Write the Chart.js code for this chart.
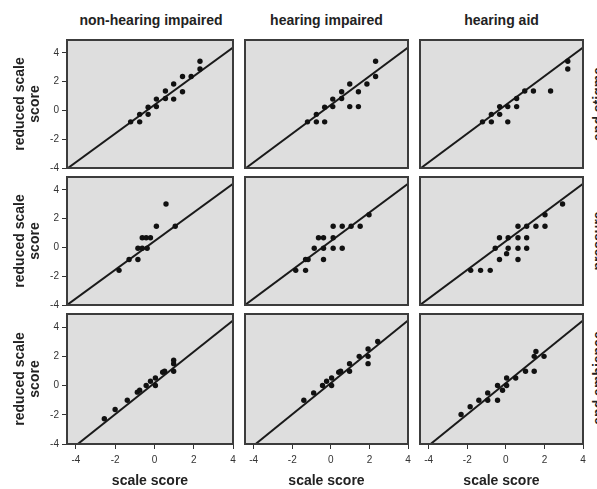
<!DOCTYPE html>
<html>
<head>
<meta charset="utf-8">
<script src="https://cdn.jsdelivr.net/npm/chart.js@4.4.1/dist/chart.umd.min.js"></script>
<style>
  body { margin: 0; background: #fff; }
  #wrap { position: relative; width: 597px; height: 489px; overflow: hidden; font-family: 'Liberation Sans', Arial, sans-serif; }
  .box { position: absolute; }
  .colTitle { position: absolute; top: 12px; height: 16px; line-height: 16px; font-weight: bold; font-size: 14px; color: #222; text-align: center; }
  .rowTag { position: absolute; line-height: 16px; font-weight: bold; font-size: 14px; color: #222; white-space: nowrap; transform: translate(-50%, -50%) rotate(-90deg); }
</style>
</head>
<body>
<div id="wrap"></div>
<script>
// column groups and row labels (right side, cut off in the source)
const groups = ['non-hearing impaired', 'hearing impaired', 'hearing aid'];
const rowTags = ['and stigma', 'pressure', 'and ambience'];
const tickValues = [-4, -2, 0, 2, 4];
const xMin = -4.45, xMax = 4;
const yMin = -4, yMax = 4.9;

// row 1
const r1c1X = [-1.21, -0.75, -0.75, -0.32, -0.32, 0.10, 0.10, 0.56, 0.56, 0.98, 0.98, 1.43, 1.43, 1.87, 2.32, 2.32];
const r1c1Y = [-0.79, -0.27, -0.79, 0.22, -0.27, 0.79, 0.27, 0.83, 1.35, 0.79, 1.84, 2.36, 1.30, 2.36, 3.42, 2.88];
const r1c2X = [-1.21, -0.75, -0.75, -0.32, -0.32, 0.10, 0.10, 0.56, 0.56, 0.98, 0.98, 1.43, 1.43, 1.87, 2.32, 2.32];
const r1c2Y = [-0.79, -0.27, -0.79, 0.22, -0.79, 0.79, 0.27, 1.30, 0.83, 1.84, 0.27, 1.30, 0.27, 1.84, 3.42, 2.36];
const r1c3X = [-1.21, -0.75, -0.75, -0.32, -0.32, 0.10, 0.10, 0.56, 0.56, 0.98, 1.43, 2.32, 3.21, 3.21];
const r1c3Y = [-0.79, -0.27, -0.79, 0.27, -0.27, 0.27, -0.79, 0.83, 0.27, 1.35, 1.35, 1.35, 3.42, 2.88];

// row 2
const r2c1X = [-1.80, -1.29, -0.84, -0.84, -0.62, -0.42, -0.20, -0.62, -0.37, 0.10, 0.59, 1.06];
const r2c1Y = [-1.59, -0.84, -0.05, -0.84, 0.68, 0.68, 0.68, -0.05, -0.05, 1.48, 3.02, 1.48];
const r2c2X = [-1.82, -1.31, -1.31, -1.18, -0.86, -0.38, -0.38, 0.12, 0.59, -0.64, -0.38, 0.12, 0.12, 0.59, 1.05, 1.52, 1.98];
const r2c2Y = [-1.59, -1.59, -0.84, -0.84, -0.05, -0.05, -0.84, -0.05, -0.05, 0.68, 0.68, 0.68, 1.48, 1.48, 1.48, 1.48, 2.27];
const r2c3X = [-1.82, -1.31, -0.81, -0.33, 0.04, 0.63, -0.55, 0.12, 0.63, 1.08, -0.33, 0.12, 0.63, 1.08, 0.63, 1.08, 1.56, 2.03, 2.03, 2.94];
const r2c3Y = [-1.59, -1.59, -1.59, -0.84, -0.43, -0.84, -0.05, -0.05, -0.05, -0.05, 0.68, 0.68, 0.68, 0.68, 1.48, 1.48, 1.48, 1.48, 2.27, 3.02];

// row 3
const r3c1X = [-2.55, -2.00, -1.38, -0.87, -0.75, -0.42, -0.20, 0.05, 0.05, 0.42, 0.52, 0.98, 0.98, 0.98];
const r3c1Y = [-2.27, -1.64, -1.00, -0.45, -0.32, 0.00, 0.30, 0.52, 0.00, 0.91, 0.98, 1.50, 1.73, 0.98];
const r3c2X = [-1.40, -0.89, -0.43, -0.22, 0.04, 0.04, 0.41, 0.51, 0.97, 0.97, 1.47, 1.93, 1.93, 1.93, 2.43];
const r3c2Y = [-1.00, -0.50, 0.00, 0.30, 0.52, 0.00, 0.91, 0.98, 1.50, 0.98, 2.00, 2.50, 2.00, 1.50, 3.02];
const r3c3X = [-2.32, -1.85, -1.40, -0.94, -0.94, -0.43, -0.43, -0.17, 0.04, 0.04, 0.51, 1.02, 1.47, 1.47, 1.56, 1.98];
const r3c3Y = [-1.98, -1.45, -1.00, -0.50, -1.00, 0.00, -1.00, -0.32, 0.52, 0.00, 0.52, 0.98, 0.98, 2.00, 2.34, 2.00];

// reference line per row (two ends)
const fitX = [[-4.4, 4], [-4.45, 4], [-3.9, 4]];
const fitY = [[-4, 4.38], [-4, 4.43], [-4, 4.45]];

const panelX = [[r1c1X, r1c2X, r1c3X], [r2c1X, r2c2X, r2c3X], [r3c1X, r3c2X, r3c3X]];
const panelY = [[r1c1Y, r1c2Y, r1c3Y], [r2c1Y, r2c2Y, r2c3Y], [r3c1Y, r3c2Y, r3c3Y]];

// layout of the grid
const colLeft = [67, 243, 418];
const colWidth = [168, 167, 167];
const rowTop = [38, 175, 312];
const rowHeight = 132;
const font = "'Liberation Sans', Arial, sans-serif";

const panelFrame = {
    id: 'panelFrame',
    beforeDatasetsDraw(chart) {
        const {ctx, chartArea: a} = chart;
        ctx.save();
        ctx.fillStyle = '#dedede';
        ctx.fillRect(a.left, a.top, a.width, a.height);
        ctx.restore();
    },
    afterDatasetsDraw(chart) {
        const {ctx, chartArea: a} = chart;
        ctx.save();
        ctx.strokeStyle = '#3c3c3c';
        ctx.lineWidth = 2;
        ctx.strokeRect(a.left, a.top, a.width, a.height);
        ctx.restore();
    }
};

// no extra room for labels that hang over the panel edges
function noPad(s) {
    s.paddingTop = 0; s.paddingBottom = 0; s.paddingLeft = 0; s.paddingRight = 0;
}

const wrap = document.getElementById('wrap');

groups.forEach((g, c) => {
    const d = document.createElement('div');
    d.className = 'colTitle';
    d.style.left = colLeft[c] + 'px';
    d.style.width = colWidth[c] + 'px';
    d.textContent = g;
    wrap.appendChild(d);
});

rowTags.forEach((t, r) => {
    const d = document.createElement('div');
    d.className = 'rowTag';
    d.style.left = '598px';
    d.style.top = (rowTop[r] + rowHeight / 2) + 'px';
    d.textContent = t;
    wrap.appendChild(d);
});

function makePanel(r, c) {
    const left = c === 0 ? 0 : colLeft[c] - 2;
    const right = colLeft[c] + colWidth[c] + 2;
    const top = rowTop[r] - 2;
    const bottom = r === 2 ? 489 : rowTop[r] + rowHeight + 2;
    const w = right - left, h = bottom - top;

    const box = document.createElement('div');
    box.className = 'box';
    box.style.left = left + 'px';
    box.style.top = top + 'px';
    const canvas = document.createElement('canvas');
    canvas.width = w;
    canvas.height = h;
    box.appendChild(canvas);
    wrap.appendChild(box);

    const xs = panelX[r][c], ys = panelY[r][c];
    const pts = xs.map((x, i) => ({x: x, y: ys[i]}));
    const line = fitX[r].map((x, i) => ({x: x, y: fitY[r][i]}));

    const xScale = {
        type: 'linear', min: xMin, max: xMax, display: r === 2,
        afterBuildTicks: s => { s.ticks = tickValues.map(v => ({value: v})); },
        grid: {drawOnChartArea: false, drawTicks: true, tickLength: 5, color: '#333', lineWidth: 1},
        border: {display: false},
        ticks: {color: '#333', font: {family: font, size: 10}, maxRotation: 0, autoSkip: false, padding: 5},
        title: {display: true, text: 'scale score', color: '#222',
                font: {family: font, size: 14, weight: 'bold', lineHeight: 1.05}, padding: {top: 0, bottom: 1}}
    };
    if (r === 2) xScale.afterFit = s => { s.height = 489 - (rowTop[2] + rowHeight); noPad(s); };

    const yScale = {
        type: 'linear', min: yMin, max: yMax, display: c === 0,
        afterBuildTicks: s => { s.ticks = tickValues.map(v => ({value: v})); },
        grid: {drawOnChartArea: false, drawTicks: true, tickLength: 5, color: '#333', lineWidth: 1},
        border: {display: false},
        ticks: {color: '#333', font: {family: font, size: 10}, autoSkip: false, padding: 3},
        title: {display: true, text: ['reduced scale', 'score'], color: '#222',
                font: {family: font, size: 14, weight: 'bold', lineHeight: 1.05}, padding: {top: 12.6, bottom: 0}}
    };
    if (c === 0) yScale.afterFit = s => { s.width = colLeft[0]; noPad(s); };

    return new Chart(canvas, {
        type: 'scatter',
        data: {
            datasets: [
                {data: pts, pointRadius: 2.7, pointBackgroundColor: '#111', pointBorderWidth: 0, showLine: false},
                {data: line, showLine: true, borderColor: '#1a1a1a', borderWidth: 2, pointRadius: 0}
            ]
        },
        options: {
            responsive: false,
            devicePixelRatio: 1,
            animation: false,
            events: [],
            layout: {padding: {left: c === 0 ? 0 : 2, right: 2, top: 2, bottom: r === 2 ? 0 : 2}},
            plugins: {legend: {display: false}, tooltip: {enabled: false}},
            scales: {x: xScale, y: yScale}
        },
        plugins: [panelFrame]
    });
}

for (let r = 0; r < 3; r++) {
    for (let c = 0; c < 3; c++) makePanel(r, c);
}
</script>
</body>
</html>
